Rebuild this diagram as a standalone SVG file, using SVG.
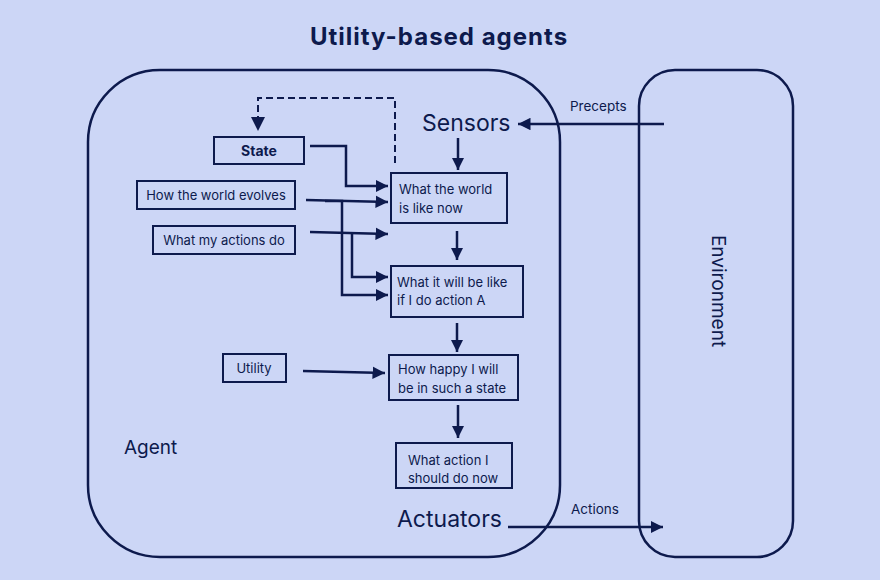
<svg xmlns="http://www.w3.org/2000/svg" width="880" height="580" viewBox="0 0 880 580">
<defs>
<marker id="ah" viewBox="0 0 10 10" refX="10" refY="5" markerWidth="5" markerHeight="5" orient="auto" markerUnits="strokeWidth">
<path d="M0,0 L10,5 L0,10 z" fill="#0d1a4d"/>
</marker>
</defs>
<style>
text{font-family:Inter,"Noto Sans","Liberation Sans",sans-serif;fill:#0d1a4d}
.box{fill:none;stroke:#0d1a4d;stroke-width:2}
.big{fill:none;stroke:#0d1a4d;stroke-width:2.5}
.n{font-size:13px}
.c{fill:none;stroke:#0d1a4d;stroke-width:2.5;marker-end:url(#ah)}
.d{fill:none;stroke:#0d1a4d;stroke-width:2;stroke-dasharray:7 4}
</style>
<rect width="880" height="580" fill="#ccd6f6"/>
<text x="439" y="45" text-anchor="middle" font-size="24" font-weight="700" letter-spacing="1">Utility-based agents</text>
<g id="agent">
<rect class="big" x="88" y="70" width="472" height="487" rx="72"/>
<text x="124" y="454" font-size="19">Agent</text>
<text x="422" y="131" font-size="23">Sensors</text>
<text x="397" y="527" font-size="23">Actuators</text>
</g>
<g id="environment">
<rect class="big" x="639" y="70" width="154" height="487" rx="36"/>
<text transform="translate(712,291) rotate(90)" text-anchor="middle" font-size="19">Environment</text>
</g>
<g id="state"><rect class="box" x="214" y="137" width="90" height="27"/><text x="259" y="156" text-anchor="middle" font-size="14" font-weight="700">State</text></g>
<g id="evolves"><rect class="box" x="137" y="181" width="158" height="28"/><text class="n" x="216" y="200" text-anchor="middle">How the world evolves</text></g>
<g id="actions"><rect class="box" x="153" y="226" width="142" height="28"/><text class="n" x="224" y="245" text-anchor="middle">What my actions do</text></g>
<g id="now"><rect class="box" x="391" y="173" width="116" height="50"/><text class="n" x="399" y="194">What the world</text><text class="n" x="399" y="213">is like now</text></g>
<g id="willbe"><rect class="box" x="391" y="266" width="132" height="51"/><text class="n" x="397" y="287">What it will be like</text><text class="n" x="397" y="305">if I do action A</text></g>
<g id="utility"><rect class="box" x="223" y="354" width="63" height="28"/><text class="n" x="254" y="373" text-anchor="middle">Utility</text></g>
<g id="happy"><rect class="box" x="389" y="355" width="129" height="45"/><text class="n" x="398" y="374">How happy I will</text><text class="n" x="398" y="393">be in such a state</text></g>
<g id="what"><rect class="box" x="396" y="443" width="116" height="45"/><text class="n" x="408" y="465">What action I</text><text class="n" x="408" y="483">should do now</text></g>
<g id="connectors">
<path class="c" d="M664,124 L518,124"/>
<text x="570" y="111" font-size="13.5">Precepts</text>
<path class="c" d="M508,527 L663,527"/>
<text x="571" y="514" font-size="13.5">Actions</text>
<path class="c" d="M458,138 L458,170"/>
<path class="d" d="M395,163 L395,98 L258,98 L258,118"/>
<path d="M251,117 L265,117 L258,131 z" fill="#0d1a4d"/>
<path class="c" d="M310,146 L346,146 L346,186 L388,186"/>
<path class="c" d="M306,200 L388,202"/>
<path class="c" d="M325,201 L342,201 L342,295 L388,295"/>
<path class="c" d="M310,232 L388,234"/>
<path class="c" d="M352,233 L352,277 L388,277"/>
<path class="c" d="M457,231 L457,260"/>
<path class="c" d="M457,323 L457,352"/>
<path class="c" d="M303,371 L385,373"/>
<path class="c" d="M458,405 L458,438"/>
</g>
</svg>
